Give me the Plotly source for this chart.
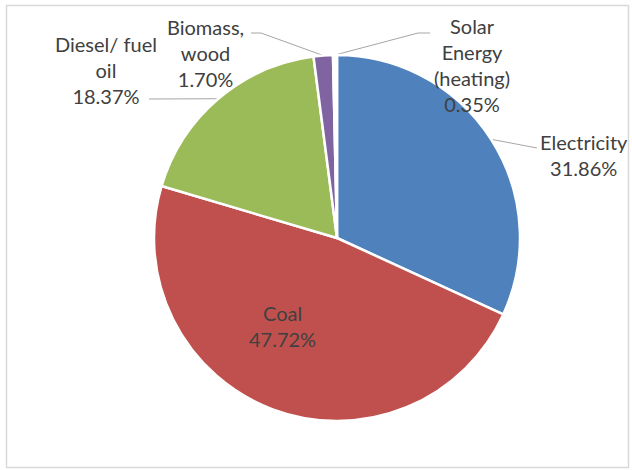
import math
import plotly.graph_objects as go

# Household heating energy sources (share of total, %)
labels = ["Electricity", "Coal", "Diesel/ fuel oil", "Biomass, wood", "Solar Energy (heating)"]
values = [31.86, 47.72, 18.37, 1.70, 0.35]
label_lines = [["Electricity"], ["Coal"], ["Diesel/ fuel", "oil"], ["Biomass,", "wood"], ["Solar", "Energy", "(heating)"]]
colors = ["#4F81BD", "#C0504D", "#9BBB59", "#8064A2", "#FFFFFF"]

W, H = 632, 470
CX, CY, R = 337, 238, 183          # pie centre and radius in pixels

# label block centres (pixels) and where each leader line leaves the label
label_pos = [(584, 155), (282, 326), (106, 70), (205, 53), (472, 65)]
leader_start = [[(537, 148)], None, [(149, 99)], [(251, 33), (261, 33)], [(430, 33), (418, 33)]]

TEXT = "#404040"
LINE = "#A6A6A6"
FONT = "Lato"

fig = go.Figure()

fig.add_trace(go.Pie(
    labels=labels, values=values, sort=False, direction="clockwise", rotation=0,
    marker=dict(colors=colors, line=dict(color="white", width=2.5)),
    textinfo="none", hoverinfo="label+percent", showlegend=False,
    domain=dict(x=[(CX - R) / W, (CX + R) / W],
                y=[1 - (CY + R) / H, 1 - (CY - R) / H]),
))

# leader lines run from each label to the middle of its slice's rim
total = sum(values)
cum = 0.0
for i, v in enumerate(values):
    mid = (cum + v / 2) / total * 2 * math.pi
    cum += v
    if leader_start[i] is None:
        continue
    ex, ey = CX + R * math.sin(mid), CY - R * math.cos(mid)
    pts = leader_start[i] + [(ex, ey)]
    fig.add_trace(go.Scatter(
        x=[p[0] for p in pts], y=[p[1] for p in pts], mode="lines",
        line=dict(color=LINE, width=1), hoverinfo="skip", showlegend=False,
    ))

for i, v in enumerate(values):
    text = "<br>".join(label_lines[i] + [f"{v:.2f}%"])
    fig.add_annotation(
        x=label_pos[i][0], y=label_pos[i][1], xref="x", yref="y",
        text=text, showarrow=False, align="center",
        font=dict(family=FONT, size=20, color=TEXT),
    )

# chart-area frame
fig.add_shape(type="rect", xref="paper", yref="paper",
              x0=6.5 / W, x1=628.5 / W, y0=1 - 467.5 / H, y1=1 - 5.5 / H,
              line=dict(color="#D9D9D9", width=1.5), fillcolor="rgba(0,0,0,0)")

fig.update_layout(
    width=W, height=H, margin=dict(l=0, r=0, t=0, b=0),
    paper_bgcolor="white", plot_bgcolor="rgba(0,0,0,0)",
    xaxis=dict(range=[0, W], visible=False, fixedrange=True),
    yaxis=dict(range=[H, 0], visible=False, fixedrange=True),
)

fig.write_html("out.html")
